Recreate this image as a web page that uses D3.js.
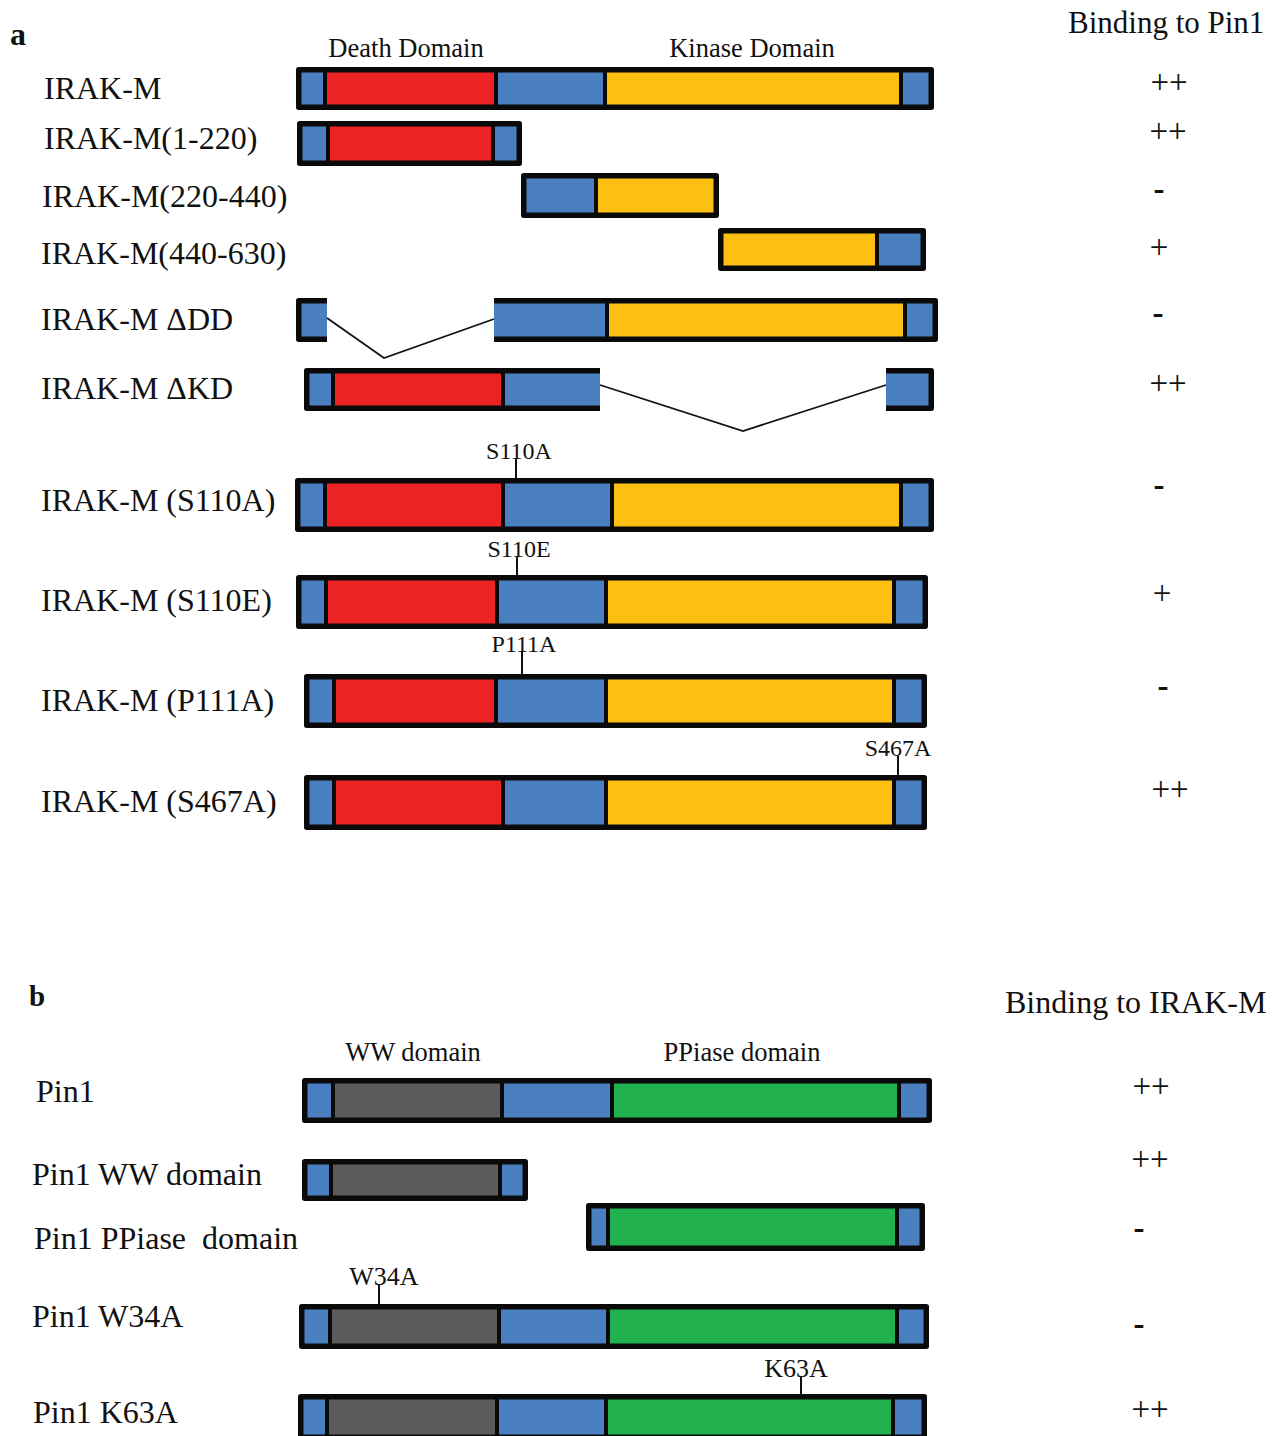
<!DOCTYPE html>
<html>
<head>
<meta charset="utf-8">
<script src="https://cdn.jsdelivr.net/npm/d3@7"></script>
<style>
  html, body { margin: 0; padding: 0; background: #fff; }
  svg { display: block; }
  text { font-family: "Liberation Serif", "Times New Roman", serif; fill: #111; white-space: pre; }
</style>
</head>
<body>
<svg id="fig" width="1282" height="1436"></svg>
<script>
// ---- Panel a: IRAK-M constructs -------------------------------------------
const constructsA = [
  "IRAK-M", "IRAK-M(1-220)", "IRAK-M(220-440)", "IRAK-M(440-630)",
  "IRAK-M \u0394DD", "IRAK-M \u0394KD",
  "IRAK-M (S110A)", "IRAK-M (S110E)", "IRAK-M (P111A)", "IRAK-M (S467A)"
];
const bindingA = ["++", "++", "-", "+", "-", "++", "-", "+", "-", "++"];
// domain boundaries along each construct; one inner array per drawn piece
const segmentsA = [
  [[0, 29, 200, 309, 605, 638]],
  [[1, 32, 197, 226]],
  [[225, 300, 423]],
  [[422, 581, 630]],
  [[0, 31], [198, 311, 609, 642]],
  [[8, 37, 207, 304], [590, 638]],
  [[-1, 29, 207, 316, 605, 638]],
  [[0, 30, 201, 310, 598, 632]],
  [[8, 38, 200, 310, 598, 631]],
  [[8, 38, 207, 310, 598, 631]]
];
const domainsA = [
  [["L", "DD", "L", "KD", "L"]],
  [["L", "DD", "L"]],
  [["L", "KD"]],
  [["KD", "L"]],
  [["L"], ["L", "KD", "L"]],
  [["L", "DD", "L"], ["L"]],
  [["L", "DD", "L", "KD", "L"]],
  [["L", "DD", "L", "KD", "L"]],
  [["L", "DD", "L", "KD", "L"]],
  [["L", "DD", "L", "KD", "L"]]
];
// deleted stretch: [end of left piece, apex, start of right piece]
const deletionsA = [null, null, null, null, [31, 88, 198], [304, 447, 590], null, null, null, null];
const mutationsA = [null, null, null, null, null, null,
  ["S110A", 220], ["S110E", 221], ["P111A", 226], ["S467A", 602]];
const headersA = [["Death Domain", 110], ["Kinase Domain", 456]];

// ---- Panel b: Pin1 constructs ---------------------------------------------
const constructsB = ["Pin1", "Pin1 WW domain", "Pin1 PPiase  domain", "Pin1 W34A", "Pin1 K63A"];
const bindingB = ["++", "++", "-", "-", "++"];
const segmentsB = [
  [[6, 37, 206, 316, 603, 636]],
  [[6, 35, 204, 232]],
  [[290, 312, 601, 629]],
  [[3, 34, 203, 312, 601, 633]],
  [[2, 31, 201, 310, 597, 631]]
];
const domainsB = [
  [["L", "WW", "L", "PP", "L"]],
  [["L", "WW", "L"]],
  [["L", "PP", "L"]],
  [["L", "WW", "L", "PP", "L"]],
  [["L", "WW", "L", "PP", "L"]]
];
const deletionsB = [null, null, null, null, null];
const mutationsB = [null, null, null, ["W34A", 83], ["K63A", 505]];
const headersB = [["WW domain", 117], ["PPiase domain", 446]];

// ---- appearance and placement ---------------------------------------------
const fills = { L: "#4b80c0", DD: "#ed2224", KD: "#fbc012", WW: "#5b5b5b", PP: "#22b14f" };

// y0/y1: bar extent, lx/ly: name position, bx/by: binding symbol centre,
// dip: lowest point of the deletion line, mx/mb: mutation label shift / baseline gap
const layoutA = [
  { y0: 67,  y1: 110, lx: 44, ly: 99,  bx: 1169, by: 84 },
  { y0: 121, y1: 166, lx: 44, ly: 149, bx: 1168, by: 133 },
  { y0: 173, y1: 218, lx: 42, ly: 207, bx: 1159, by: 193 },
  { y0: 228, y1: 271, lx: 41, ly: 264, bx: 1159, by: 249 },
  { y0: 298, y1: 342, lx: 41, ly: 330, bx: 1158, by: 317, dip: 358, ya: 318, yb: 319 },
  { y0: 368, y1: 411, lx: 41, ly: 399, bx: 1168, by: 385, dip: 431, ya: 385, yb: 385 },
  { y0: 478, y1: 532, lx: 41, ly: 511, bx: 1159, by: 489, mx: 3, mb: 19 },
  { y0: 575, y1: 629, lx: 41, ly: 611, bx: 1162, by: 595, mx: 2, mb: 18 },
  { y0: 674, y1: 728, lx: 41, ly: 711, bx: 1163, by: 690, mx: 2, mb: 22 },
  { y0: 775, y1: 830, lx: 41, ly: 812, bx: 1170, by: 791, mx: 0, mb: 19 }
];
const layoutB = [
  { y0: 1078, y1: 1123, lx: 36, ly: 1102, bx: 1151, by: 1088 },
  { y0: 1159, y1: 1201, lx: 32, ly: 1185, bx: 1150, by: 1161 },
  { y0: 1203, y1: 1251, lx: 34, ly: 1249, bx: 1139, by: 1232 },
  { y0: 1304, y1: 1349, lx: 32, ly: 1327, bx: 1139, by: 1328, mx: 5, mb: 19 },
  { y0: 1394, y1: 1440, lx: 33, ly: 1423, bx: 1150, by: 1411, mx: -5, mb: 17 }
];

const svg = d3.select("#fig");
// position along the construct -> page x
const x = d3.scaleLinear().domain([0, 638]).range([296, 934]);

const OUTER = 5.5, INNER = 4;

function drawPiece(g, bounds, kinds, y0, y1, openL, openR) {
  const t = y0 + OUTER / 2, b = y1 - OUTER / 2;
  const x0 = x(bounds[0]), x1 = x(bounds[bounds.length - 1]);
  kinds.forEach((k, i) => {
    g.append("rect")
      .attr("x", x(bounds[i]))
      .attr("y", t)
      .attr("width", x(bounds[i + 1]) - x(bounds[i]))
      .attr("height", b - t)
      .attr("fill", fills[k]);
  });
  for (let i = 1; i < bounds.length - 1; i++) {
    g.append("line")
      .attr("x1", x(bounds[i])).attr("x2", x(bounds[i]))
      .attr("y1", t).attr("y2", b)
      .attr("stroke", "#0a0a0a").attr("stroke-width", INNER);
  }
  const l = openL ? x0 : x0 + OUTER / 2;
  const r = openR ? x1 : x1 - OUTER / 2;
  const p = d3.path();
  if (!openL && !openR) {
    p.rect(l, t, r - l, b - t);
  } else if (openR && !openL) {
    p.moveTo(r, t); p.lineTo(l, t); p.lineTo(l, b); p.lineTo(r, b);
  } else if (openL && !openR) {
    p.moveTo(l, t); p.lineTo(r, t); p.lineTo(r, b); p.lineTo(l, b);
  } else {
    p.moveTo(l, t); p.lineTo(r, t); p.moveTo(l, b); p.lineTo(r, b);
  }
  g.append("path")
    .attr("d", p.toString())
    .attr("fill", "none")
    .attr("stroke", "#0a0a0a")
    .attr("stroke-width", OUTER)
    .attr("stroke-linejoin", "round");
}

function drawPanel(names, binding, segments, domains, deletions, mutations, headers, layout, opts) {
  const g = svg.append("g");

  g.selectAll("text.hdr").data(headers).join("text")
    .attr("class", "hdr")
    .attr("x", d => x(d[1]))
    .attr("y", opts.headerY)
    .attr("text-anchor", "middle")
    .style("font-size", "26.5px")
    .text(d => d[0]);

  names.forEach((name, i) => {
    const lay = layout[i];
    const row = g.append("g");

    row.append("text")
      .attr("x", lay.lx).attr("y", lay.ly)
      .style("font-size", opts.nameSize + "px")
      .text(name);

    const pieces = segments[i];
    pieces.forEach((bounds, j) => {
      drawPiece(row, bounds, domains[i][j], lay.y0, lay.y1, j > 0, j < pieces.length - 1);
    });

    const del = deletions[i];
    if (del) {
      row.append("path")
        .attr("d", d3.line()([[x(del[0]), lay.ya], [x(del[1]), lay.dip], [x(del[2]), lay.yb]]))
        .attr("fill", "none")
        .attr("stroke", "#111")
        .attr("stroke-width", 1.8);
    }

    const mut = mutations[i];
    if (mut) {
      const base = lay.y0 - lay.mb;
      row.append("line")
        .attr("x1", x(mut[1])).attr("x2", x(mut[1]))
        .attr("y1", base).attr("y2", lay.y0 + 1)
        .attr("stroke", "#111").attr("stroke-width", 2);
      row.append("text")
        .attr("x", x(mut[1]) + lay.mx).attr("y", base)
        .attr("text-anchor", "middle")
        .style("font-size", opts.mutSize + "px")
        .text(mut[0]);
    }

    const sym = binding[i];
    row.append("text")
      .attr("x", lay.bx)
      .attr("y", lay.by + (sym.includes("+") ? 9 : 7))
      .attr("text-anchor", "middle")
      .style("font-size", "33px")
      .style("font-weight", sym === "-" ? "bold" : "normal")
      .text(sym);
  });

  svg.append("text")
    .attr("x", opts.tagX).attr("y", opts.tagY)
    .style("font-size", opts.tagSize + "px")
    .style("font-weight", "bold")
    .text(opts.tag);

  svg.append("text")
    .attr("x", opts.titleX).attr("y", opts.titleY)
    .style("font-size", opts.titleSize + "px")
    .text(opts.title);
}

drawPanel(constructsA, bindingA, segmentsA, domainsA, deletionsA, mutationsA, headersA, layoutA, {
  headerY: 57, nameSize: 32, mutSize: 24,
  tag: "a", tagX: 10, tagY: 45, tagSize: 32,
  title: "Binding to Pin1", titleX: 1068, titleY: 33, titleSize: 31
});

drawPanel(constructsB, bindingB, segmentsB, domainsB, deletionsB, mutationsB, headersB, layoutB, {
  headerY: 1061, nameSize: 32, mutSize: 26,
  tag: "b", tagX: 29, tagY: 1006, tagSize: 29,
  title: "Binding to IRAK-M", titleX: 1005, titleY: 1013, titleSize: 32
});
</script>
</body>
</html>
